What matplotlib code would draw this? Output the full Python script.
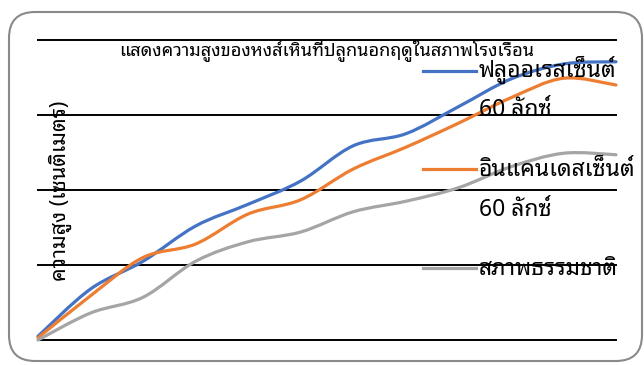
import numpy as np
import matplotlib
matplotlib.use("Agg")
import matplotlib.pyplot as plt
from matplotlib.path import Path
from matplotlib.patches import PathPatch, FancyBboxPatch
from matplotlib.lines import Line2D

THAI = ["Noto Sans Thai Looped", "DejaVu Sans"]
plt.rcParams["font.family"] = THAI

# plant height (cm) per measurement, three light treatments
weeks = list(range(12))
fluorescent = [0.5, 6.8, 10.5, 15.2, 18.1, 21.2, 25.9, 27.5, 31.1, 34.8, 36.8, 37.1]
incandescent = [0.3, 5.9, 11.0, 12.8, 16.8, 18.7, 22.8, 25.7, 28.9, 32.3, 34.9, 34.0]
natural = [0.0, 3.6, 5.7, 10.5, 13.1, 14.4, 17.1, 18.5, 20.3, 23.1, 24.9, 24.7]
y_grid = [0, 10, 20, 30, 40]

title = "แสดงความสูงของหงส์เหินที่ปลูกนอกฤดูในสภาพโรงเรือน"
ylabel = "ความสูง (เซนติเมตร)"
series = [
    (fluorescent, "#4472C4", ["ฟลูออเรสเซ็นต์", "60 ลักซ์"]),
    (incandescent, "#ED7D31", ["อินแคนเดสเซ็นต์", "60 ลักซ์"]),
    (natural, "#A5A5A5", ["สภาพธรรมชาติ"]),
]

W, H = 644, 365


def fx(px):
    return px / W


def fy(py):
    return 1 - py / H


def smooth_path(xs, ys):
    """Bezier curve through every point (Catmull-Rom style control points)."""
    n = len(xs)
    verts = [(xs[0], ys[0])]
    codes = [Path.MOVETO]
    for i in range(n - 1):
        a = max(i - 1, 0)
        d = min(i + 2, n - 1)
        c1 = (xs[i] + (xs[i + 1] - xs[a]) / 6, ys[i] + (ys[i + 1] - ys[a]) / 6)
        c2 = (xs[i + 1] - (xs[d] - xs[i]) / 6, ys[i + 1] - (ys[d] - ys[i]) / 6)
        verts += [c1, c2, (xs[i + 1], ys[i + 1])]
        codes += [Path.CURVE4] * 3
    return Path(verts, codes)


fig = plt.figure(figsize=(W / 100, H / 100), dpi=100)

# rounded chart-area frame, kept behind the axes
frame = FancyBboxPatch((0.09, 0.04), 6.33, 3.49,
                       boxstyle="round,pad=0,rounding_size=0.26",
                       transform=fig.dpi_scale_trans, facecolor="none",
                       edgecolor="#8a8a8a", linewidth=1.5, zorder=-1)
fig.patches.append(frame)

ax = fig.add_axes([fx(38), fy(340), fx(616) - fx(38), fy(40) - fy(340)])
ax.set_xlim(weeks[0], weeks[-1])
ax.set_ylim(y_grid[0], y_grid[-1])
ax.patch.set_visible(False)
for s in ax.spines.values():
    s.set_visible(False)
ax.set_xticks([])
ax.set_yticks([])
for g in y_grid:
    ax.axhline(g, color="black", linewidth=1.4, zorder=1, clip_on=False)

for vals, color, _ in series:
    ax.add_patch(PathPatch(smooth_path(weeks, vals), facecolor="none",
                           edgecolor=color, linewidth=2.3, capstyle="round",
                           zorder=3, clip_on=False))

fig.text(fx(327), fy(55), title, ha="center", va="baseline", fontsize=13)
fig.text(fx(60), fy(191), ylabel, ha="center", va="center",
         rotation=90, fontsize=15.5)

# legend: handle beside first line, label wrapped over two lines
legend_rows = [(71, [77, 116]), (169, [176, 216]), (268, [275])]
for (vals, color, lines), (hy, bases) in zip(series, legend_rows):
    fig.lines.append(Line2D([fx(423), fx(476)], [fy(hy), fy(hy)], color=color,
                            linewidth=2.3, transform=fig.transFigure))
    for txt, b in zip(lines, bases):
        fig.text(fx(479), fy(b), txt, ha="left", va="baseline", fontsize=16.5)

fig.savefig("out.png", dpi=100)
